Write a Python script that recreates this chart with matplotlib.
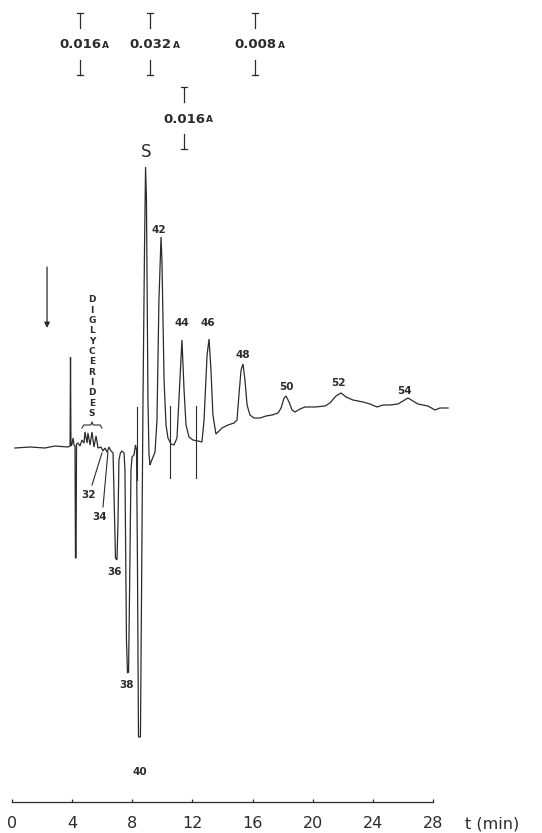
import numpy as np
import matplotlib
matplotlib.use('Agg')
import matplotlib.pyplot as plt

plt.rcParams['font.family'] = ['DejaVu Sans']

# detector trace: time (min) vs signal (arbitrary units, baseline = 0)
t_trace = [0.20, 1.20, 2.19, 2.86, 3.72, 3.86, 3.89, 3.92, 3.99, 4.06, 4.12, 4.19,
           4.22, 4.26, 4.29, 4.39, 4.52, 4.65, 4.79, 4.85, 4.99, 5.05, 5.19, 5.32,
           5.45, 5.59, 5.72, 5.92, 6.05, 6.18, 6.32, 6.45, 6.58, 6.72, 6.82, 6.88,
           6.98, 7.05, 7.11, 7.21, 7.31, 7.45, 7.51, 7.61, 7.68, 7.75, 7.81, 7.91,
           7.98, 8.11, 8.21, 8.28, 8.34, 8.41, 8.54, 8.61, 8.71, 8.81, 8.88, 8.94,
           9.04, 9.11, 9.18, 9.24, 9.38, 9.51, 9.64, 9.77, 9.91, 9.97, 10.11, 10.24,
           10.37, 10.57, 10.77, 10.97, 11.10, 11.30, 11.44, 11.57, 11.77, 12.03, 12.37,
           12.63, 12.77, 12.97, 13.10, 13.23, 13.36, 13.56, 13.70, 13.96, 14.36, 14.76,
           14.96, 15.09, 15.23, 15.36, 15.49, 15.63, 15.82, 16.09, 16.49, 16.89, 17.29,
           17.69, 17.89, 18.09, 18.22, 18.42, 18.62, 18.82, 19.15, 19.48, 20.15, 20.81,
           21.14, 21.54, 21.88, 22.21, 22.67, 23.34, 23.80, 24.27, 24.67, 25.13, 25.66,
           26.00, 26.33, 26.66, 26.99, 27.33, 27.66, 28.12, 28.46, 28.99]
signal = [-0.1, 0.0, -0.1, 0.1, 0.0, 0.1, 9.0, 0.1, 0.3, 0.9, 0.2, 0.1,
          -11.1, -11.1, 0.3, 0.4, 0.1, 0.7, 0.4, 1.5, 0.4, 1.4, 0.2, 1.5,
          0.0, 1.1, -0.1, 0.0, -0.4, -0.1, -0.5, 0.0, -0.4, -0.6, -7.3, -11.1,
          -11.3, -7.3, -1.3, -0.6, -0.4, -0.6, -2.3, -19.3, -22.6, -22.5, -15.3, -2.3,
          -1.0, -0.8, 0.2, -0.3, -11.3, -29.0, -29.0, -15.3, 4.7, 19.7, 28.0, 24.7,
          4.7, -0.8, -1.8, -1.5, -1.0, -0.5, 2.7, 14.7, 21.0, 18.7, 6.7, 2.2,
          0.9, 0.3, 0.2, 0.9, 4.7, 10.7, 5.7, 2.2, 1.0, 0.7, 0.6,
          0.5, 2.7, 9.2, 10.8, 7.7, 3.2, 1.3, 1.5, 1.9, 2.2, 2.4,
          2.7, 5.2, 7.7, 8.3, 6.7, 4.2, 3.2, 2.9, 2.9, 3.1, 3.2,
          3.4, 3.9, 4.9, 5.1, 4.5, 3.7, 3.5, 3.8, 4.0, 4.0, 4.1,
          4.4, 5.1, 5.4, 5.0, 4.7, 4.5, 4.3, 4.0, 4.2, 4.2, 4.3,
          4.6, 4.9, 4.6, 4.3, 4.2, 4.1, 3.7, 3.9, 3.9]

# peak labels
peak_names = ['S', '42', '44', '46', '48', '50', '52', '54', '32', '34', '36', '38', '40']
peak_t = [8.91, 9.77, 11.30, 13.03, 15.36, 18.22, 21.68, 26.13, 5.12, 5.85, 6.85, 7.65, 8.51]
peak_s = [29.5, 21.7, 12.4, 12.4, 9.2, 6.0, 6.4, 5.6, -4.8, -7.0, -12.5, -23.8, -32.5]

# leader lines for 32 and 34
leader_t = [(5.32, 5.98), (6.05, 6.38)]
leader_s = [(-3.8, -0.6), (-6.0, -0.5)]

# event marks on the recorder
mark_t = [8.31, 10.50, 12.23]
mark_top = [4.0, 4.1, 4.1]
mark_bottom = [-3.3, -3.1, -3.1]

# attenuation settings
att_labels = ['0.016', '0.032', '0.008', '0.016']
att_t = [4.52, 9.18, 16.16, 11.44]
att_s = [40.2, 40.2, 40.2, 32.8]

injection_t = 2.33
diglyc_t = 5.32
diglyc_span = (4.65, 5.98)

ticks = [0, 4, 8, 12, 16, 20, 24, 28]

ink = '#2b2b2b'

fig = plt.figure(figsize=(5.42, 8.33), dpi=100)
ax = fig.add_axes([0, 0, 1, 1])
ax.set_xlim(-0.798, 35.24)
ax.set_ylim(-38.6, 44.7)

ax.plot(t_trace, signal, color=ink, lw=0.9, solid_joinstyle='miter')

for t, top, bot in zip(mark_t, mark_top, mark_bottom):
    ax.plot([t, t], [bot, top], color=ink, lw=0.8)

for lt, ls in zip(leader_t, leader_s):
    ax.plot(lt, ls, color=ink, lw=0.8)

for name, t, s in zip(peak_names, peak_t, peak_s):
    if name == 'S':
        ax.text(t, s, name, ha='center', va='center', fontsize=12, color=ink)
    else:
        ax.text(t, s, name, ha='center', va='center', fontsize=7.5,
                fontweight='bold', color=ink)

# injection arrow
ax.annotate('', xy=(injection_t, 11.9), xytext=(injection_t, 18.0),
            arrowprops=dict(arrowstyle='-|>', color=ink, lw=0.9,
                            mutation_scale=8, shrinkA=0, shrinkB=0))

# vertical DIGLYCERIDES label and brace
for i, ch in enumerate('DIGLYCERIDES'):
    ax.text(diglyc_t, 14.7 - i * 1.03, ch, ha='center', va='center',
            fontsize=6.5, fontweight='bold', color=ink)
b0, b1 = diglyc_span
bm = (b0 + b1) / 2
ax.plot([b0, b0 + 0.12, bm - 0.08, bm, bm + 0.08, b1 - 0.12, b1],
        [1.9, 2.2, 2.2, 2.5, 2.2, 2.2, 1.9], color=ink, lw=0.8)

# attenuation markers
for lab, t, s in zip(att_labels, att_t, att_s):
    ax.plot([t, t], [s + 1.7, s + 3.2], color=ink, lw=0.9)
    ax.plot([t - 0.2, t + 0.2], [s + 3.2, s + 3.2], color=ink, lw=0.9)
    ax.plot([t, t], [s - 1.5, s - 3.0], color=ink, lw=0.9)
    ax.plot([t - 0.2, t + 0.2], [s - 3.0, s - 3.0], color=ink, lw=0.9)
    txt = ax.text(t, s, lab, ha='center', va='center', fontsize=9.5,
                  fontweight='bold', color=ink)
    ax.annotate('A', xy=(1, 0.1), xycoords=txt, xytext=(1.0, 0),
                textcoords='offset points', ha='left', va='bottom',
                fontsize=6.5, fontweight='bold', color=ink)

# time axis
for side in ['left', 'right', 'top']:
    ax.spines[side].set_visible(False)
ax.spines['bottom'].set_position(('data', -35.5))
ax.spines['bottom'].set_bounds(0, 28)
ax.spines['bottom'].set_color(ink)
ax.spines['bottom'].set_linewidth(0.9)
ax.set_xticks(ticks)
ax.set_xticklabels([str(v) for v in ticks])
ax.tick_params(axis='x', direction='in', length=2.5, width=0.9, color=ink,
               labelsize=11.5, labelcolor=ink, pad=10)
ax.set_yticks([])
ax.text(31.9, -37.7, 't (min)', ha='center', va='center', fontsize=11.5, color=ink)

fig.savefig('out.png', dpi=100, facecolor='white')
